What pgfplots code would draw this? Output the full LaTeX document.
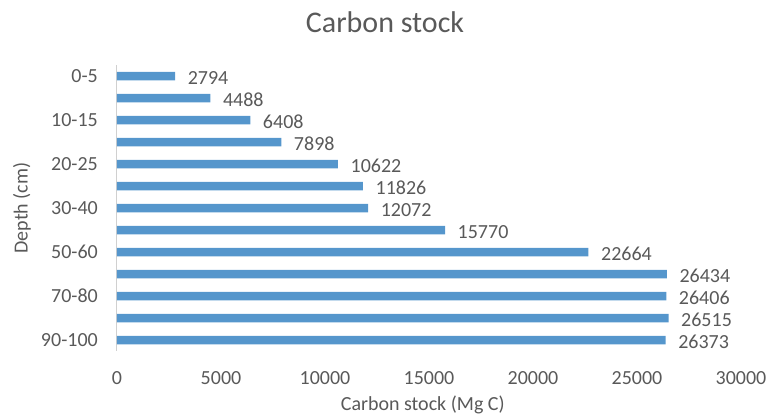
\documentclass[border=0pt]{standalone}
\usepackage{fontspec}
\setmainfont{Carlito}
\usepackage{pgfplots}
\pgfplotsset{compat=1.18}
\usetikzlibrary{calc}

\definecolor{barblue}{HTML}{5596CC}
\definecolor{txtgray}{HTML}{595959}
\definecolor{axgray}{HTML}{D0D0D0}

\begin{document}
\begin{tikzpicture}
\begin{axis}[
  name=ax,
  scale only axis,
  width=624bp, height=286bp,
  xbar, bar width=8.5bp,
  xmin=0, xmax=30000,
  ymin=-0.5, ymax=12.5,
  y dir=reverse,
  axis lines=left,
  axis line style={-},
  x axis line style={draw=none},
  y axis line style={axgray, line width=1bp},
  major tick length=0pt,
  scaled x ticks=false,
  xtick={0,5000,10000,15000,20000,25000,30000},
  xticklabels={0,5000,10000,15000,20000,25000,30000},
  ytick={0,1,2,3,4,5,6,7,8,9,10,11,12},
  yticklabels={0-5,,10-15,,20-25,,30-40,,50-60,,70-80,,90-100},
  ticklabel style={font=\fontsize{20bp}{22bp}\selectfont, text=txtgray, inner sep=0pt},
  xticklabel style={anchor=north, yshift=-20bp},
  yticklabel style={anchor=east, xshift=-19bp},
  /pgf/number format/.cd, 1000 sep={}, assume math mode=true, /pgfplots/.cd,
  nodes near coords,
  nodes near coords style={font=\fontsize{20bp}{22bp}\selectfont, text=txtgray,
    anchor=west, inner sep=0pt, xshift=12.5bp, yshift=-2bp},
  clip=false,
]
\addplot[fill=barblue, draw=none] coordinates {
  (2794,0) (4488,1) (6408,2) (7898,3) (10622,4) (11826,5) (12072,6)
  (15770,7) (22664,8) (26434,9) (26406,10) (26515,11) (26373,12)
};
\coordinate (bl) at (rel axis cs:0,0);
\coordinate (tr) at (rel axis cs:1,1);
\end{axis}
\node[font=\fontsize{30bp}{32bp}\selectfont, text=txtgray, inner sep=0pt]
  at ($(bl)!0.4295!(bl-|tr)$) [yshift=329bp] {Carbon stock};
\node[font=\fontsize{20bp}{22bp}\selectfont, text=txtgray, inner sep=0pt]
  at ($(bl)!0.49!(bl-|tr)$) [yshift=-54bp] {Carbon stock (Mg C)};
\node[font=\fontsize{20bp}{22bp}\selectfont, text=txtgray, inner sep=0pt, rotate=90]
  at ($(bl)!0.5!(bl|-tr)+(-95bp,0bp)$) {Depth (cm)};
\pgfresetboundingbox
\path ($(bl)+(-117bp,-67bp)$) rectangle ($(tr)+(29bp,65bp)$);
\end{tikzpicture}
\end{document}
